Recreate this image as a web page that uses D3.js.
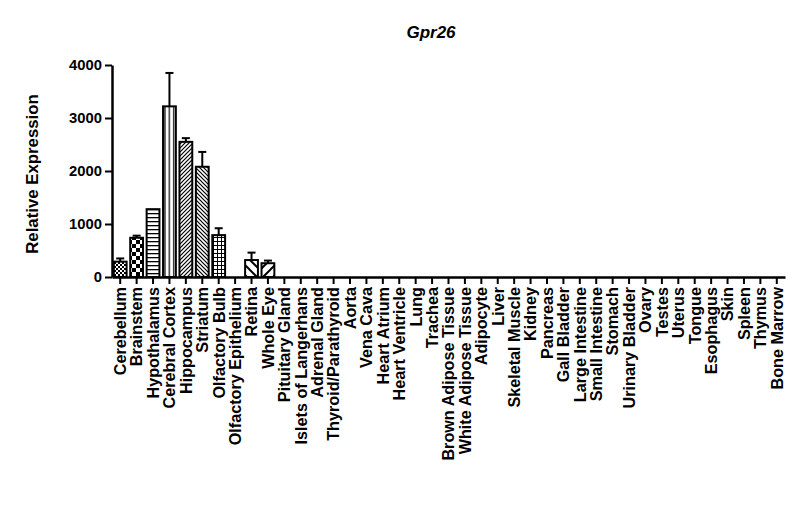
<!DOCTYPE html>
<html>
<head>
<meta charset="utf-8">
<script src="https://cdn.jsdelivr.net/npm/d3@7"></script>
<style>
body { margin: 0; background: #fff; }
text { font-family: "Liberation Sans", Arial, sans-serif; font-weight: bold; fill: #000; }
</style>
</head>
<body>
<script>
// tissues along the x axis
var tissues = ["Cerebellum", "Brainstem", "Hypothalamus", "Cerebral Cortex", "Hippocampus",
  "Striatum", "Olfactory Bulb", "Olfactory Epithelium", "Retina", "Whole Eye",
  "Pituitary Gland", "Islets of Langerhans", "Adrenal Gland", "Thyroid/Parathyroid", "Aorta",
  "Vena Cava", "Heart Atrium", "Heart Ventricle", "Lung", "Trachea",
  "Brown Adipose Tissue", "White Adipose Tissue", "Adipocyte", "Liver", "Skeletal Muscle",
  "Kidney", "Pancreas", "Gall Bladder", "Large Intestine", "Small Intestine",
  "Stomach", "Urinary Bladder", "Ovary", "Testes", "Uterus",
  "Tongue", "Esophagus", "Skin", "Spleen", "Thymus", "Bone Marrow"];

// mean expression and upper error (SEM)
var means = [290, 740, 1280, 3220, 2550, 2080, 790, 0, 320, 260,
  0, 0, 0, 0, 0, 0, 0, 0, 0, 0, 0, 0, 0, 0, 0, 0, 0, 0, 0, 0, 0, 0, 0, 0, 0, 0, 0, 0, 0, 0, 0];
var errors = [60, 40, 0, 630, 70, 280, 130, 0, 140, 50,
  0, 0, 0, 0, 0, 0, 0, 0, 0, 0, 0, 0, 0, 0, 0, 0, 0, 0, 0, 0, 0, 0, 0, 0, 0, 0, 0, 0, 0, 0, 0];

var yTicks = [0, 1000, 2000, 3000, 4000];

// fill pattern per bar (index into pattern defs below)
var fills = ["chkS", "chkL", "horiz", "vert", "diagF", "diagB", "grid", "none", "wideB", "wideF"];

var W = 800, H = 508;
var margin = {top: 65, right: 15, bottom: 231, left: 112};

var svg = d3.select("body").append("svg")
    .attr("width", W)
    .attr("height", H);

var defs = svg.append("defs");

function pat(id, size, draw) {
  var p = defs.append("pattern")
      .attr("id", id)
      .attr("patternUnits", "userSpaceOnUse")
      .attr("width", size)
      .attr("height", size);
  p.append("rect").attr("width", size).attr("height", size).attr("fill", "#fff");
  draw(p, size);
}

pat("chkS", 4, function(p) {
  p.append("rect").attr("width", 2).attr("height", 2).attr("fill", "#000");
  p.append("rect").attr("x", 2).attr("y", 2).attr("width", 2).attr("height", 2).attr("fill", "#000");
});
pat("chkL", 8, function(p) {
  p.append("rect").attr("width", 4).attr("height", 4).attr("fill", "#000");
  p.append("rect").attr("x", 4).attr("y", 4).attr("width", 4).attr("height", 4).attr("fill", "#000");
});
pat("horiz", 4, function(p) {
  p.append("rect").attr("y", 1).attr("width", 4).attr("height", 1.3).attr("fill", "#000");
});
pat("vert", 4.3, function(p) {
  p.append("rect").attr("x", 1).attr("width", 1.2).attr("height", 4.3).attr("fill", "#000");
});
pat("diagF", 4, function(p) {
  p.append("path").attr("d", "M-1,1 l2,-2 M0,4 l4,-4 M3,5 l2,-2")
    .attr("stroke", "#000").attr("stroke-width", 1.2);
});
pat("diagB", 4, function(p) {
  p.append("path").attr("d", "M-1,3 l2,2 M0,0 l4,4 M3,-1 l2,2")
    .attr("stroke", "#000").attr("stroke-width", 1.2);
});
pat("grid", 4, function(p) {
  p.append("rect").attr("y", 1).attr("width", 4).attr("height", 1).attr("fill", "#000");
  p.append("rect").attr("x", 1).attr("width", 1).attr("height", 4).attr("fill", "#000");
});
pat("wideB", 10, function(p) {
  p.append("path").attr("d", "M-2,8 l4,4 M0,0 l10,10 M8,-2 l4,4")
    .attr("stroke", "#000").attr("stroke-width", 2);
});
pat("wideF", 10, function(p) {
  p.append("path").attr("d", "M-2,2 l4,-4 M0,10 l10,-10 M8,12 l4,-4")
    .attr("stroke", "#000").attr("stroke-width", 2);
});

var x = d3.scaleBand()
    .domain(tissues)
    .range([margin.left, W - margin.right])
    .paddingInner(0.22)
    .paddingOuter(0.11);

var y = d3.scaleLinear()
    .domain([0, 4000])
    .range([H - margin.bottom, margin.top]);

var data = tissues.map(function(t, i) {
  return {name: t, mean: means[i], err: errors[i], fill: fills[i] || "none"};
});
var drawn = data.filter(function(d) { return d.mean > 0; });

// error bars (upper only)
var eb = svg.append("g").selectAll("g")
    .data(drawn.filter(function(d) { return d.err > 0; }))
  .enter().append("g")
    .attr("stroke", "#000")
    .attr("stroke-width", 2);

eb.append("line")
    .attr("x1", function(d) { return x(d.name) + x.bandwidth() / 2; })
    .attr("x2", function(d) { return x(d.name) + x.bandwidth() / 2; })
    .attr("y1", function(d) { return y(d.mean); })
    .attr("y2", function(d) { return y(d.mean + d.err); });

eb.append("line")
    .attr("x1", function(d) { return x(d.name) + x.bandwidth() / 2 - 4; })
    .attr("x2", function(d) { return x(d.name) + x.bandwidth() / 2 + 4; })
    .attr("y1", function(d) { return y(d.mean + d.err); })
    .attr("y2", function(d) { return y(d.mean + d.err); });

// bars
svg.append("g").selectAll("rect")
    .data(drawn)
  .enter().append("rect")
    .attr("x", function(d) { return x(d.name); })
    .attr("y", function(d) { return y(d.mean); })
    .attr("width", x.bandwidth())
    .attr("height", function(d) { return y(0) - y(d.mean); })
    .attr("fill", function(d) { return "url(#" + d.fill + ")"; })
    .attr("stroke", "#000")
    .attr("stroke-width", 2);

// y axis
var yAxis = svg.append("g")
    .attr("transform", "translate(" + margin.left + ",0)")
    .call(d3.axisLeft(y).tickValues(yTicks).tickFormat(d3.format("d"))
      .tickSize(7).tickPadding(3).tickSizeOuter(0));

// x axis
var xAxis = svg.append("g")
    .attr("transform", "translate(0," + y(0) + ")")
    .call(d3.axisBottom(x).tickSize(7).tickPadding(3).tickSizeOuter(0));

[yAxis, xAxis].forEach(function(a) {
  a.select(".domain").attr("stroke", "#000").attr("stroke-width", 2.5);
  a.selectAll(".tick line").attr("stroke", "#000").attr("stroke-width", 2);
});

yAxis.selectAll("text")
    .style("font-size", "14.8px")
    .style("font-family", "Liberation Sans, Arial, sans-serif")
    .style("font-weight", "bold");

xAxis.selectAll("text")
    .style("font-size", "16.2px")
    .style("font-family", "Liberation Sans, Arial, sans-serif")
    .style("font-weight", "bold")
    .attr("text-anchor", "end")
    .attr("transform", "rotate(-90)")
    .attr("x", -10)
    .attr("y", 0)
    .attr("dy", "0.36em");

// axis title
svg.append("text")
    .attr("transform", "translate(38," + ((margin.top + y(0)) / 2 + 3) + ") rotate(-90)")
    .attr("text-anchor", "middle")
    .style("font-size", "16.8px")
    .text("Relative Expression");

// chart title
svg.append("text")
    .attr("x", 431)
    .attr("y", 38)
    .attr("text-anchor", "middle")
    .style("font-size", "17px")
    .style("font-style", "italic")
    .text("Gpr26");
</script>
</body>
</html>
